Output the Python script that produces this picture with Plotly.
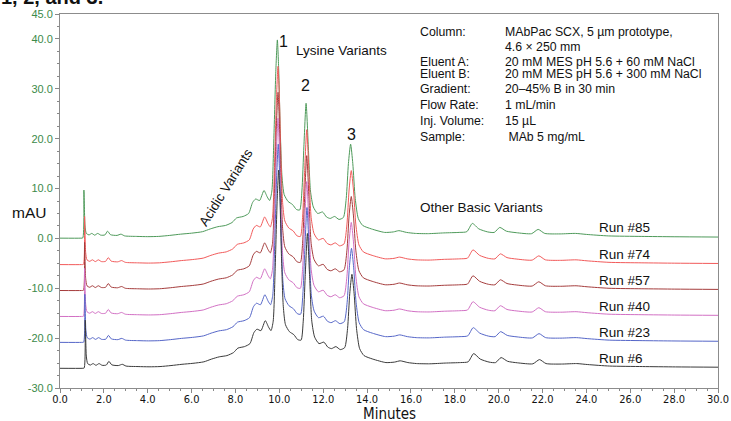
import plotly.graph_objects as go

# ---------------- data ----------------
runs = ["Run #85", "Run #74", "Run #57", "Run #40", "Run #23", "Run #6"]
colors = ["#4e9a5a", "#f25a5a", "#a53c3c", "#d270c4", "#5566c8", "#3a3a3a"]
offsets = [0.0, -5.3, -10.5, -15.7, -20.9, -26.1]        # baseline of each run (mAU)
shifts = [0.0, 0.03, 0.03, 0.03, 0.04, 0.06]              # small retention shift (min)

# chromatogram profile (relative to baseline)
profile_t = [0.00, 0.95, 1.04, 1.09, 1.14, 1.20, 1.32, 1.45, 1.58, 1.72, 1.86, 2.05,
             2.17, 2.30, 2.60, 2.78, 2.95, 3.50, 4.00, 4.50, 5.00, 5.50, 6.00, 6.50,
             6.85, 7.20, 7.55, 7.85, 8.05, 8.35, 8.60, 8.78, 8.92, 9.10, 9.30, 9.45,
             9.56, 9.66, 9.75, 9.84, 9.91, 9.97, 10.04, 10.12, 10.22, 10.40, 10.60,
             10.78, 10.93, 11.03, 11.12, 11.22, 11.32, 11.42, 11.55, 11.75, 11.97,
             12.15, 12.32, 12.52, 12.72, 12.92, 13.05, 13.15, 13.25, 13.35, 13.46,
             13.60, 13.80, 14.20, 14.80, 15.20, 15.45, 15.80, 16.20, 16.80, 17.50,
             18.20, 18.55, 18.80, 19.10, 19.50, 19.80, 20.05, 20.35, 20.80, 21.50,
             21.80, 22.10, 22.80, 23.50, 24.00, 25.00, 26.50, 28.00, 30.00]
profile_v = [0.05, 0.05, 0.10, 9.70, 2.50, 1.00, 0.70, 1.00, 0.65, 1.00, 0.65, 0.70,
             1.45, 0.75, 0.60, 0.85, 0.50, 0.40, 0.35, 0.40, 0.60, 0.85, 1.05, 1.35,
             1.90, 2.35, 2.60, 3.20, 4.10, 4.40, 5.00, 7.20, 7.90, 7.60, 9.60, 8.30,
             7.60, 9.50, 20.0, 33.5, 39.8, 34.0, 22.0, 12.5, 8.80, 7.40, 6.80,
             5.80, 5.70, 9.50, 18.5, 27.1, 18.5, 9.50, 6.30, 5.00, 5.30,
             4.30, 4.00, 4.40, 3.80, 4.20, 8.00, 15.0, 18.9, 15.0, 8.00,
             4.00, 2.60, 1.90, 1.20, 1.30, 1.55, 1.20, 1.00, 0.95, 1.10,
             1.20, 1.35, 3.00, 1.90, 1.30, 1.20, 2.20, 1.45, 1.15, 0.95,
             1.80, 1.00, 0.90, 1.00, 0.80, 0.50, 0.40, 0.33, 0.27]

x_ticks = [0, 2, 4, 6, 8, 10, 12, 14, 16, 18, 20, 22, 24, 26, 28, 30]
y_ticks = [-30, -20, -10, 0, 10, 20, 30, 40, 45]

conditions = [
    ("Column:", "MAbPac SCX, 5 µm prototype,"),
    ("", "4.6 × 250 mm"),
    ("Eluent A:", "20 mM MES pH 5.6 + 60 mM NaCl"),
    ("Eluent B:", "20 mM MES pH 5.6 + 300 mM NaCl"),
    ("Gradient:", "20–45% B in 30 min"),
    ("Flow Rate:", "1 mL/min"),
    ("Inj. Volume:", "15 µL"),
    ("Sample:", " MAb 5 mg/mL"),
]
cond_rows_y = [41.45, 38.45, 35.3, 33.0, 29.9, 26.75, 23.6, 20.4]

# ---------------- figure ----------------
W, H = 731, 421
L, R, T, B = 60, 13, 14, 33
fig = go.Figure()

for name, col, off, sh in zip(runs, colors, offsets, shifts):
    xs = [t + sh if t > 0 else t for t in profile_t]
    ys = [v + off for v in profile_v]
    fig.add_trace(go.Scatter(x=xs, y=ys, mode="lines", name=name,
                             line=dict(color=col, width=1, shape="spline", smoothing=0.6),
                             showlegend=False, hoverinfo="skip"))

ann = []
TXT = dict(family="Liberation Sans, Arial, sans-serif", color="#111111")
NARROW = "DejaVu Sans Condensed, Liberation Sans Narrow, Arial Narrow, Liberation Sans, Arial, sans-serif"

# run labels
for name, off in zip(runs, offsets):
    ann.append(dict(x=24.5, y=off + 2.1, xref="x", yref="y", text=name, showarrow=False,
                    xanchor="left", yanchor="middle", font=dict(TXT, size=13.5)))

# peak labels
peak_ann = [
    dict(x=10.18, y=39.45, text="1", font=dict(TXT, size=16)),
    dict(x=11.17, y=30.6, text="2", font=dict(TXT, size=16)),
    dict(x=13.30, y=20.9, text="3", font=dict(TXT, size=16)),
    dict(x=10.68, y=37.6, text="Lysine Variants", xanchor="left", font=dict(TXT, size=13.5)),
    dict(x=7.57, y=10.16, text="Acidic Variants", textangle=-58, font=dict(TXT, size=13.5)),
    dict(x=16.3, y=6.1, text="Other Basic Variants", xanchor="left", font=dict(TXT, size=13.5)),
]
for a in peak_ann:
    a.update(xref="x", yref="y", showarrow=False)
    a.setdefault("xanchor", "center")
    a.setdefault("yanchor", "middle")
ann += peak_ann

# conditions block
for (lab, val), yy in zip(conditions, cond_rows_y):
    if lab:
        ann.append(dict(x=16.33, y=yy, xref="x", yref="y", text=lab, showarrow=False,
                        xanchor="left", yanchor="middle", font=dict(TXT, size=12.3)))
    ann.append(dict(x=20.2, y=yy, xref="x", yref="y", text=val, showarrow=False,
                    xanchor="left", yanchor="middle", font=dict(TXT, size=12.3)))

def px(xp, yp):
    return (xp - L) / (W - L - R), (H - B - yp) / (H - T - B)

# axis titles and clipped caption
mx, my = px(29, 212)
ann.append(dict(x=mx, y=my, xref="paper", yref="paper", text="mAU", showarrow=False,
                xanchor="center", yanchor="middle", font=dict(TXT, size=15.5)))
mx, my = px(389, 414)
ann.append(dict(x=mx, y=my, xref="paper", yref="paper", text="Minutes", showarrow=False,
                xanchor="center", yanchor="middle", font=dict(family=NARROW, size=15, color="#111")))
mx, my = px(-1, -3)
ann.append(dict(x=mx, y=my, xref="paper", yref="paper", text="<b>1, 2, and 3.</b>",
                showarrow=False, xanchor="left", yanchor="middle",
                font=dict(TXT, size=20)))

fig.update_layout(
    width=W, height=H, margin=dict(l=L, r=R, t=T, b=B, pad=0, autoexpand=False),
    paper_bgcolor="white", plot_bgcolor="white",
    annotations=ann,
    xaxis=dict(range=[0, 30], tickmode="array", tickvals=x_ticks, automargin=False,
               ticktext=[f"{v:.1f}" for v in x_ticks], ticklabelstandoff=-3,
               ticks="outside", ticklen=4, tickcolor="#888", showgrid=False, zeroline=False,
               showline=True, linecolor="#8c8c8c", linewidth=1, mirror=True,
               tickfont=dict(family=NARROW, size=11, color="#111"),
               minor=dict(tickmode="linear", tick0=0, dtick=0.5, ticks="outside",
                          ticklen=2, tickcolor="#888")),
    yaxis=dict(range=[-30, 45], tickmode="array", tickvals=y_ticks, automargin=False,
               ticktext=[f"{v:.1f}" for v in y_ticks],
               ticks="outside", ticklen=4, tickcolor="#888", showgrid=False, zeroline=False,
               showline=True, linecolor="#8c8c8c", linewidth=1, mirror=True,
               tickfont=dict(family="Liberation Sans, Arial, sans-serif", size=11, color="#3c8a4a"),
               minor=dict(tickmode="linear", tick0=0, dtick=2.5, ticks="outside",
                          ticklen=2, tickcolor="#888")),
)

fig.write_html("out.html")
